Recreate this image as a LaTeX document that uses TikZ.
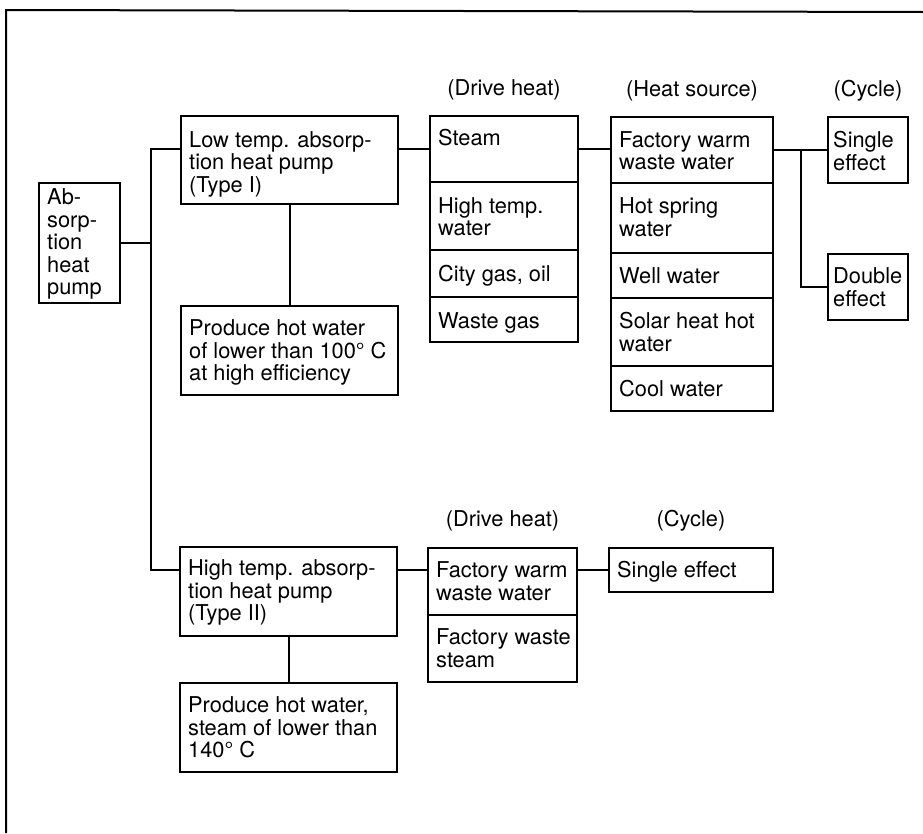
\documentclass[tikz,border=0pt]{standalone}
\usepackage{fontspec}
\setmainfont{TeX Gyre Heros}
\tikzset{
  box/.style={draw, line width=2pt, inner sep=0pt, outer sep=0pt, anchor=north west},
  txt/.style={anchor=north west, inner sep=0pt, align=left, font=\fontsize{21.8}{22.6}\selectfont},
  hdr/.style={anchor=base, inner sep=0pt, font=\fontsize{21.8}{22.6}\selectfont},
  conn/.style={line width=2pt},
  frameline/.style={line width=2pt}
}
% #1 name, #2 x1, #3 y1, #4 x2, #5 y2, #6 x inset, #7 y inset, #8 text
\newcommand{\cellbox}[8]{%
  \node[box, minimum width={(#4-#2)*1pt}, minimum height={(#5-#3)*1pt}] (#1) at (#2,-#3) {};
  \node[txt] (#1-t) at ([shift={(#6,-#7)}]#1.north west) {#8};
}
\begin{document}
\begin{tikzpicture}[x=1pt,y=1pt]
\useasboundingbox (0,0) rectangle (923,-833);
\draw[frameline] (6,-833) -- (6,-10) -- (923,-12);

% root
\cellbox{abs}{39}{183}{120}{303}{8}{5.5}{Ab-\\sorp-\\tion\\heat\\pump}

% Type I
\cellbox{lt}{181}{116}{398}{204}{8}{15}{Low temp. absorp-\\tion heat pump\\(Type I)}
\cellbox{p1}{181}{306}{398}{395}{8}{13.5}{Produce hot water\\of lower than 100° C\\at high efficiency}

% drive heat I
\cellbox{d1}{430}{116}{578}{182}{8}{13.5}{Steam}
\cellbox{d2}{430}{182}{578}{250}{8}{15}{High temp.\\water}
\cellbox{d3}{430}{250}{578}{297}{8}{15.5}{City gas, oil}
\cellbox{d4}{430}{297}{578}{342}{8}{15}{Waste gas}

% heat source
\cellbox{h1}{611}{117}{773}{183}{8}{14}{Factory warm\\waste water}
\cellbox{h2}{611}{183}{773}{253}{8}{14.5}{Hot spring\\water}
\cellbox{h3}{611}{253}{773}{298}{8}{14}{Well water}
\cellbox{h4}{611}{298}{773}{366}{8}{14}{Solar heat hot\\water}
\cellbox{h5}{611}{366}{773}{411}{8}{14}{Cool water}

% cycle I
\cellbox{s1}{828}{117}{908}{183}{5}{14}{Single\\effect}
\cellbox{s1b}{828}{254}{908}{320}{5}{13.5}{Double\\effect}

% Type II
\cellbox{ht}{180}{547}{397}{636}{8}{12.5}{High temp. absorp-\\tion heat pump\\(Type II)}
\cellbox{p2}{180}{683}{397}{772}{8}{13.5}{Produce hot water,\\steam of lower than\\140° C}
\cellbox{e1}{428}{548}{577}{615}{8}{13.5}{Factory warm\\waste water}
\cellbox{e2}{428}{615}{577}{682}{8}{13.5}{Factory waste\\steam}
\cellbox{s2}{609}{548}{773}{592}{8}{13.5}{Single effect}

% headers
\node[hdr] (hd1) at ([yshift=21]d1.north) {(Drive heat)};
\node[hdr] (hh1) at ([yshift=21]h1.north) {(Heat source)};
\node[hdr] (hc1) at ([yshift=21]s1.north) {(Cycle)};
\node[hdr] (hd2) at ([yshift=22]e1.north) {(Drive heat)};
\node[hdr] (hc2) at ([yshift=22]s2.north) {(Cycle)};

% connectors
\coordinate (jn) at (151,-243);
\coordinate (br) at (801,-150);
\draw[conn] (abs.east) -- (jn);
\draw[conn] (lt.west |- d1.west) -| (jn) |- (ht.west |- s2.west);
\draw[conn] (lt.south) -- (p1.north);
\draw[conn] (lt.east |- d1.west) -- (d1.west);
\draw[conn] (d1.east) -- (d1.east -| h1.west);
\draw[conn] (h1.east) -- (h1.east -| s1.west);
\draw[conn] (h1.east -| br) |- (s1b.west);
\draw[conn] (ht.south) -- (p2.north);
\draw[conn] (ht.east |- s2.west) -- (e1.west |- s2.west);
\draw[conn] (e1.east |- s2.west) -- (s2.west);
\end{tikzpicture}
\end{document}
